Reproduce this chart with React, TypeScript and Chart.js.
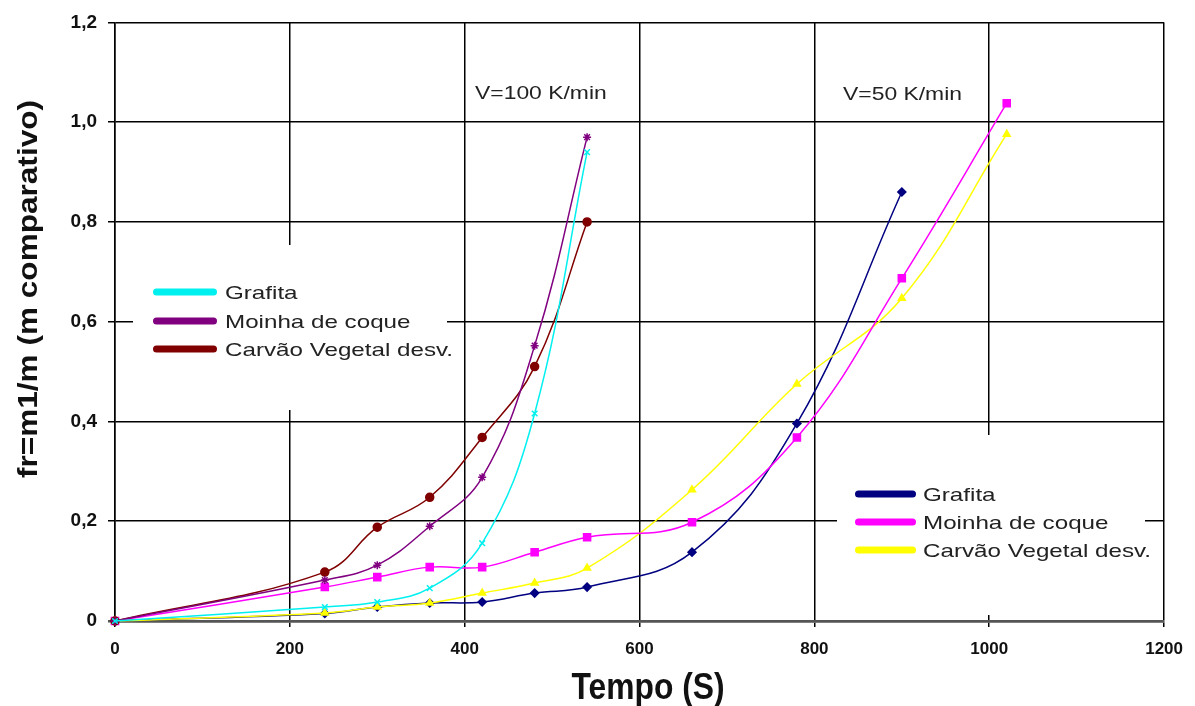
import React, { useEffect, useRef } from "react";
import { Chart, registerables } from "chart.js";

Chart.register(...registerables);

// ---------- data ----------
const xTickValues = [0, 200, 400, 600, 800, 1000, 1200];
const xTickLabels = ["0", "200", "400", "600", "800", "1000", "1200"];
const yTickValues = [0, 0.2, 0.4, 0.6, 0.8, 1.0, 1.2];
const yTickLabels = ["0", "0,2", "0,4", "0,6", "0,8", "1,0", "1,2"];

// V = 100 K/min
const tempos100 = [0, 240, 300, 360, 420, 480, 540];
const grafita100 = [0, 0.028, 0.038, 0.066, 0.156, 0.416, 0.94];
const moinha100 = [0, 0.082, 0.112, 0.19, 0.288, 0.552, 0.97];
const carvao100 = [0, 0.098, 0.188, 0.248, 0.368, 0.51, 0.8];

// V = 50 K/min
const tempos50 = [0, 240, 300, 360, 420, 480, 540, 660, 780, 900, 1020];
const grafita50 = [0, 0.015, 0.028, 0.036, 0.038, 0.056, 0.068, 0.138, 0.396, 0.86];
const moinha50 = [0, 0.068, 0.088, 0.108, 0.108, 0.138, 0.168, 0.198, 0.368, 0.687, 1.038];
const carvao50 = [0, 0.016, 0.028, 0.036, 0.056, 0.076, 0.106, 0.263, 0.475, 0.647, 0.976];

const seriesLabels = ["Grafita", "Moinha de coque", "Carvão Vegetal desv."];
const colors100 = ["#00F0F0", "#800080", "#800000"];
const colors50 = ["#000080", "#FF00FF", "#FFFF00"];
const annotationTexts = ["V=100 K/min", "V=50 K/min"];
const xTitle = "Tempo (S)";
const yTitle = "fr=m1/m (m comparativo)";

const FONT = '"Liberation Sans", Arial, sans-serif';

const pts = (xs: number[], ys: number[]) => ys.map((y, i) => ({ x: xs[i], y }));

function fitText(
  ctx: CanvasRenderingContext2D,
  text: string,
  x: number,
  y: number,
  size: number,
  weight: string,
  sx: number,
  align: CanvasTextAlign,
  color: string,
  rotate = 0
) {
  ctx.save();
  ctx.font = `${weight} ${size}px ${FONT}`;
  ctx.fillStyle = color;
  ctx.textAlign = align;
  ctx.textBaseline = "alphabetic";
  ctx.translate(x, y);
  if (rotate) ctx.rotate(rotate);
  ctx.scale(sx, 1);
  ctx.fillText(text, 0, 0);
  ctx.restore();
}

function scaleFor(ctx: CanvasRenderingContext2D, text: string, size: number, weight: string, target: number) {
  ctx.save();
  ctx.font = `${weight} ${size}px ${FONT}`;
  const w = ctx.measureText(text).width;
  ctx.restore();
  return target / w;
}

const decorPlugin = {
  id: "decor",
  beforeDatasetsDraw(chart: any) {
    const ctx: CanvasRenderingContext2D = chart.ctx;
    ctx.save();
    ctx.fillStyle = "#ffffff";
    ctx.fillRect(133, 245, 447 - 133, 410 - 245);
    ctx.fillRect(837, 435, 1145 - 837, 615 - 435);
    ctx.restore();
  },
  afterDatasetsDraw(chart: any) {
    const ctx: CanvasRenderingContext2D = chart.ctx;
    const legendSize = 19;
    const sxLegend = scaleFor(ctx, seriesLabels[2], legendSize, "normal", 228);

    const drawLegend = (x1: number, x2: number, rows: number[], colors: string[], textX: number) => {
      rows.forEach((ry, i) => {
        ctx.save();
        ctx.strokeStyle = colors[i];
        ctx.lineWidth = 7;
        ctx.lineCap = "round";
        ctx.beginPath();
        ctx.moveTo(x1 + 3.5, ry);
        ctx.lineTo(x2 - 3.5, ry);
        ctx.stroke();
        ctx.restore();
        fitText(ctx, seriesLabels[i], textX, ry + 7, legendSize, "normal", sxLegend, "left", "#222");
      });
    };
    drawLegend(153, 217, [292, 321, 349], colors100, 225);
    drawLegend(855, 916, [494, 522, 550], colors50, 923);

    // annotations
    const sxAnn = scaleFor(ctx, annotationTexts[1], 19, "normal", 119);
    fitText(ctx, annotationTexts[0], 475, 99, 19, "normal", sxAnn, "left", "#222");
    fitText(ctx, annotationTexts[1], 843, 100, 19, "normal", sxAnn, "left", "#222");

    // axis titles
    const sxX = scaleFor(ctx, xTitle, 37, "bold", 153);
    fitText(ctx, xTitle, 648, 699, 37, "bold", sxX, "center", "#111");
    const sxY = scaleFor(ctx, yTitle, 27, "bold", 378);
    fitText(ctx, yTitle, 37, 289, 27, "bold", sxY, "center", "#111", -Math.PI / 2);
  },
};

export default function App() {
  const ref = useRef<HTMLCanvasElement>(null);

  useEffect(() => {
    const canvas = ref.current!;
    const common = { borderWidth: 1.5, tension: 0.4, clip: false as any, pointBorderWidth: 1.5 };
    const chart = new Chart(canvas, {
      type: "line",
      data: {
        datasets: [
          {
            label: seriesLabels[0] + " 100",
            data: pts(tempos100, grafita100),
            borderColor: colors100[0],
            backgroundColor: colors100[0],
            pointStyle: "crossRot",
            pointRadius: 4,
            order: 1,
            ...common,
          },
          {
            label: seriesLabels[1] + " 100",
            data: pts(tempos100, moinha100),
            borderColor: colors100[1],
            backgroundColor: colors100[1],
            pointStyle: "star",
            pointRadius: 4,
            order: 2,
            ...common,
          },
          {
            label: seriesLabels[2] + " 100",
            data: pts(tempos100, carvao100),
            borderColor: colors100[2],
            backgroundColor: colors100[2],
            pointStyle: "circle",
            pointRadius: 4,
            order: 3,
            ...common,
          },
          {
            label: seriesLabels[0] + " 50",
            data: pts(tempos50, grafita50),
            borderColor: colors50[0],
            backgroundColor: colors50[0],
            pointStyle: "rectRot",
            pointRadius: 4,
            order: 6,
            ...common,
          },
          {
            label: seriesLabels[1] + " 50",
            data: pts(tempos50, moinha50),
            borderColor: colors50[1],
            backgroundColor: colors50[1],
            pointStyle: "rect",
            pointRadius: 5,
            order: 4,
            ...common,
          },
          {
            label: seriesLabels[2] + " 50",
            data: pts(tempos50, carvao50),
            borderColor: colors50[2],
            backgroundColor: colors50[2],
            pointStyle: "triangle",
            pointRadius: 4,
            order: 5,
            ...common,
          },
        ],
      },
      options: {
        animation: false,
        responsive: false,
        maintainAspectRatio: false,
        layout: { padding: { left: 0, top: 20, right: 30, bottom: 0 } },
        plugins: {
          legend: { display: false },
          tooltip: { enabled: false },
        },
        scales: {
          x: {
            type: "linear",
            min: 0,
            max: 1200,
            afterBuildTicks: (s: any) => {
              s.ticks = xTickValues.map((v) => ({ value: v }));
            },
            afterFit: (s: any) => {
              s.height = 85;
            },
            ticks: {
              callback: (_v: any, i: number) => xTickLabels[i],
              font: { size: 17, weight: "bold", family: FONT },
              color: "#111",
              padding: 12,
              maxRotation: 0,
              autoSkip: false,
            },
            grid: { color: "#000", lineWidth: 1.5, tickLength: 6 },
            border: { color: "#555", width: 2.5 },
          },
          y: {
            type: "linear",
            min: 0,
            max: 1.2,
            afterBuildTicks: (s: any) => {
              s.ticks = yTickValues.map((v) => ({ value: v }));
            },
            afterFit: (s: any) => {
              s.width = 115;
            },
            ticks: {
              callback: (_v: any, i: number) => yTickLabels[i],
              font: { size: 19, weight: "bold", family: FONT },
              color: "#111",
              padding: 11,
              autoSkip: false,
            },
            grid: {
              color: (c: any) => (c.tick && c.tick.value === 0 ? "#555" : "#000"),
              lineWidth: (c: any) => (c.tick && c.tick.value === 0 ? 2.5 : 1.5),
              tickLength: 7,
            },
            border: { color: "#000", width: 1.5 },
          },
        },
      } as any,
      plugins: [decorPlugin],
    });
    return () => chart.destroy();
  }, []);

  return (
    <div style={{ position: "absolute", left: 0, top: 0, width: 1195, height: 706, background: "#fff" }}>
      <canvas ref={ref} width={1195} height={706} style={{ display: "block" }} />
    </div>
  );
}
